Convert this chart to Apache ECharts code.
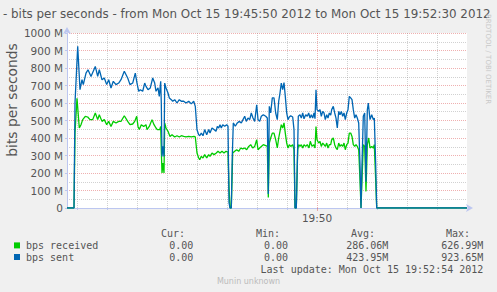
<!DOCTYPE html>
<html><head><meta charset="utf-8">
<script src="https://cdn.jsdelivr.net/npm/echarts@6/dist/echarts.min.js"></script>
<style>html,body{margin:0;padding:0;background:#F0F0F0}#c{width:497px;height:292px}</style>
</head><body><div id="c"></div>
<script>
// ---- data (t = seconds after 19:45:50, value in Mbit/s) ----
const titleText = '- bits per seconds - from Mon Oct 15 19:45:50 2012 to Mon Oct 15 19:52:30 2012';
const yAxisName = 'bits per seconds';
const startClockSec = 19 * 3600 + 45 * 60 + 50;
const spanSec = 400;
const yTickLabels = ['0', '100 M', '200 M', '300 M', '400 M', '500 M', '600 M', '700 M', '800 M', '900 M', '1000 M'];
const seriesNames = ['bps received', 'bps sent'];
const curValues = ['0.00', '0.00'];
const minValues = ['0.00', '0.00'];
const avgValues = ['286.06M', '423.95M'];
const maxValues = ['626.99M', '923.65M'];
const lastUpdate = 'Mon Oct 15 19:52:54 2012';
const footer = 'Munin unknown';
const watermark = 'RRDTOOL / TOBI OETIKER';

const received = [[0,0],[7,0],[8,430],[10,627],[12.3,457],[14,476],[15.7,505],[18.3,524],[20.7,520],[23,505],[25.7,505],[28.3,543],[30.7,505],[32.3,533],[35,495],[37.3,505],[39.7,476],[41.7,495],[44,466],[46.3,495],[49,486],[51.7,495],[54,495],[57.3,527],[60.7,495],[63,476],[65.7,480],[67.7,495],[69.7,524],[71,466],[72.3,448],[74.3,476],[76.7,466],[79,476],[80,448],[82.3,466],[85,505],[87,476],[89,457],[90.3,448],[92.7,448],[93.7,466],[94.3,333],[95,200],[96,257],[97,200],[97.7,486],[99,457],[101,438],[103,409],[105,419],[107.7,406],[110,413],[112.3,406],[114.3,413],[116.7,409],[119,406],[121.7,409],[124.3,406],[127,409],[128.3,406],[130,314],[131.7,286],[132.7,276],[134.3,295],[136,286],[137.7,305],[139.7,286],[141.7,305],[143,295],[145,314],[147,305],[149.3,314],[151,324],[153,314],[155,324],[157,314],[159,324],[161,320],[162,120],[163,0],[164.3,0],[165.7,314],[167.7,324],[169.7,333],[171.7,324],[173.7,343],[175.7,338],[177.7,343],[179.7,333],[181.7,352],[183.7,362],[185.7,343],[187.7,352],[189.7,390],[191,333],[192.7,343],[194.3,352],[196.3,362],[198.7,357],[200.3,352],[201.3,60],[202.3,371],[203.7,400],[205.3,428],[207,428],[208.7,390],[210.3,343],[211.7,400],[213,438],[214.3,476],[215.7,457],[217,486],[218.3,428],[219.7,371],[221,343],[222.3,362],[223.7,352],[225.7,362],[227,333],[228,0],[229.3,0],[230.7,333],[231.7,362],[233,352],[234.3,362],[235.7,343],[237,362],[238.7,352],[240.3,362],[242,343],[243.3,381],[245,352],[246.7,362],[248,343],[249,466],[250,390],[251.7,371],[253,381],[254.3,352],[255.7,371],[257,362],[258.3,352],[259.7,371],[261,343],[262.3,362],[263.7,362],[264.7,390],[266.3,400],[267.7,362],[269,343],[270.3,333],[271.7,371],[273,352],[274.3,362],[275.7,352],[277,371],[278.3,333],[279.7,362],[281,371],[282.3,428],[283.7,428],[285,409],[286.3,362],[287.7,352],[289,362],[290.3,352],[291.7,333],[293,160],[294,0],[295,160],[296.3,362],[297.7,352],[299,95],[300.3,362],[301.7,400],[303,343],[304.7,352],[306.3,343],[307.3,362],[308.7,160],[309.7,0],[400,0]];

const sent = [[0,0],[7,0],[8,600],[10.7,923.65],[13,676],[15,733],[16.3,705],[19,771],[21,790],[24,752],[28.3,809],[30.7,752],[32.3,790],[35,733],[37.3,743],[39.7,705],[41.7,733],[44,686],[46.3,724],[49,705],[51.7,714],[54,733],[57.3,781],[60.7,743],[63,705],[65.7,714],[68.3,771],[70,714],[71.7,667],[73.3,676],[75.7,667],[77.7,714],[79,695],[81,676],[83.3,686],[85.7,743],[87.7,714],[89,667],[91,686],[92.3,638],[93.7,724],[94.3,600],[95,295],[96,352],[97,295],[97.7,714],[99,686],[101,657],[102.3,629],[104.3,619],[105.7,610],[107.7,619],[110,600],[112.3,619],[114.3,610],[116.7,610],[119,600],[121.7,610],[124.3,595],[126.7,610],[128.3,581],[130,447],[131.7,419],[132.7,413],[134.3,428],[136,413],[137.7,448],[139.7,419],[141.7,448],[143,428],[145,457],[147,448],[149,438],[150.3,466],[151.7,457],[153,476],[154.3,457],[155.7,476],[157.7,467],[159.7,476],[161,467],[162,30],[163,0],[164.3,0],[165.3,300],[166.3,486],[168.3,467],[170.3,486],[172.3,495],[174.3,486],[176,505],[177.7,524],[179.3,495],[181,514],[182.7,505],[184.3,543],[186,514],[187.7,495],[189.7,590],[191,505],[192.7,495],[194.3,524],[196.3,533],[198.7,524],[200.3,514],[201.3,80],[202.3,581],[203.7,543],[205.3,629],[207,629],[208.7,543],[210.3,505],[211.7,610],[213,657],[214.3,714],[215.7,676],[217,717],[218.3,638],[219.7,543],[221,505],[222.3,520],[223.7,527],[225.7,520],[227,448],[228,0],[229.3,0],[230.3,250],[231.3,524],[233,533],[234.3,514],[235.7,543],[237,510],[238.7,533],[240.3,524],[241.7,543],[243,514],[244.3,533],[245.7,514],[247,543],[248,510],[249,676],[250,562],[251.7,552],[253,562],[254.3,524],[255.7,552],[257,543],[258.3,505],[259.7,533],[261,514],[262.3,543],[263.7,530],[264.7,562],[266.3,581],[267.7,543],[269,514],[270.3,457],[271.7,552],[273,533],[274.3,552],[275.7,524],[277,543],[278.3,505],[279.7,543],[281,562],[282.3,638],[283.7,629],[285,619],[286.3,562],[287.7,514],[289,533],[290.3,514],[291.7,486],[293,250],[294,0],[295,250],[296.3,524],[297.7,543],[299,150],[300.3,560],[301.3,600],[303,505],[304.7,533],[306.3,505],[307.3,514],[308.7,250],[309.7,0],[400,0]];

// ---- styling ----
const GREEN = '#00CC00', BLUE = '#0066B3';
const AXIS = '#BCC6F0';
const MAJOR = 'rgba(220,80,80,0.45)';
const MINOR = 'rgba(140,140,140,0.4)';
const TXT = '#555555';
const SANS = '"DejaVu Sans"';
const MONO = '"DejaVu Sans Mono"';

const gridSecs = [];
for (let t = 10; t < spanSec; t += 30) gridSecs.push([t, 0]);
const isMajor = t => (startClockSec + t) % 300 === 0;
const clockLabel = t => {
  const s = startClockSec + t;
  const h = Math.floor(s / 3600), m = Math.floor((s % 3600) / 60);
  return String(h).padStart(2, '0') + ':' + String(m).padStart(2, '0');
};

const chart = echarts.init(document.getElementById('c'), null, {renderer: 'svg'});

function txt(text, x, y, font, fill, align, extra) {
  return Object.assign({
    type: 'text', x: x, y: y, silent: true,
    style: {text: text, font: font, fill: fill, textAlign: align, align: align,
            textVerticalAlign: 'middle', verticalAlign: 'middle'}
  }, extra || {});
}

const legendFont = '10px ' + MONO;
const colsRight = [193.3, 288, 388.3, 483.3];
const headRight = [185, 280, 375, 470];
const rowsY = [245.7, 257.3];
const elements = [
  txt(titleText, 3, 14, '11.9px ' + SANS, TXT, 'left'),
  txt(watermark, 488, 14, '7px ' + SANS, '#C8C8C8', 'left', {rotation: -Math.PI / 2}),
  txt(yAxisName, 12, 100, '13.8px ' + SANS, TXT, 'center', {rotation: Math.PI / 2}),
  txt('Cur:', headRight[0], 233.3, legendFont, TXT, 'right'),
  txt('Min:', headRight[1], 233.3, legendFont, TXT, 'right'),
  txt('Avg:', headRight[2], 233.3, legendFont, TXT, 'right'),
  txt('Max:', headRight[3], 233.3, legendFont, TXT, 'right'),
  txt('Last update: ' + lastUpdate, 483.3, 269, legendFont, TXT, 'right'),
  txt(footer, 248.5, 281, '8px ' + SANS, '#BBBBBB', 'center')
];
[GREEN, BLUE].forEach((col, i) => {
  const y = rowsY[i];
  elements.push({type: 'rect', silent: true, shape: {x: 14, y: y - 3.3, width: 6, height: 6}, style: {fill: col}});
  elements.push(txt(seriesNames[i], 26, y, legendFont, TXT, 'left'));
  elements.push(txt(curValues[i], colsRight[0], y, legendFont, TXT, 'right'));
  elements.push(txt(minValues[i], colsRight[1], y, legendFont, TXT, 'right'));
  elements.push(txt(avgValues[i], colsRight[2], y, legendFont, TXT, 'right'));
  elements.push(txt(maxValues[i], colsRight[3], y, legendFont, TXT, 'right'));
});

chart.setOption({
  animation: false,
  backgroundColor: '#F0F0F0',
  grid: {left: 67, top: 33, width: 400, height: 175, show: true, backgroundColor: '#FFFFFF',
         borderWidth: 0, containLabel: false, outerBoundsMode: 'none'},
  xAxis: {
    type: 'value', min: 0, max: spanSec, interval: 10,
    axisLine: {show: true, lineStyle: {color: AXIS, width: 1}, symbol: ['none', 'arrow'],
               symbolSize: [6, 7], symbolOffset: [0, 6]},
    axisTick: {show: false},
    splitLine: {show: false},
    axisLabel: {
      show: true, margin: 4, color: TXT, fontFamily: 'DejaVu Sans', fontSize: 10.5,
      showMinLabel: true, showMaxLabel: true, hideOverlap: false,
      formatter: v => isMajor(v) ? clockLabel(v) : ''
    }
  },
  yAxis: {
    type: 'value', min: 0, max: 1000, interval: 100,
    axisLine: {show: true, lineStyle: {color: AXIS, width: 1}, symbol: ['none', 'arrow'],
               symbolSize: [6, 7], symbolOffset: [0, 6]},
    axisTick: {show: true, length: 2, lineStyle: {color: AXIS}},
    axisLabel: {margin: 4, color: TXT, fontFamily: 'DejaVu Sans', fontSize: 10.5,
                formatter: v => yTickLabels[Math.round(v / 100)]},
    splitLine: {show: true, lineStyle: {color: MAJOR, type: [1, 1], width: 1}},
    minorTick: {show: false, splitNumber: 2},
    minorSplitLine: {show: true, lineStyle: {color: MINOR, type: [1, 1], width: 1}}
  },
  graphic: {elements: elements},
  series: [
    {
      type: 'custom', silent: true, z: 1, data: gridSecs,
      renderItem: (params, api) => {
        const t = api.value(0);
        const top = api.coord([t, 1000]);
        const bot = api.coord([t, 0]);
        const x = Math.round(top[0]) + 0.5;
        const major = isMajor(t);
        return {type: 'group', children: [
          {type: 'line', shape: {x1: x, y1: top[1], x2: x, y2: bot[1]},
           style: {stroke: major ? MAJOR : MINOR, lineWidth: 1, lineDash: [1, 1]}},
          {type: 'line', shape: {x1: x, y1: bot[1], x2: x, y2: bot[1] + (major ? 3 : 2)},
           style: {stroke: major ? MAJOR : AXIS, lineWidth: 1}}
        ]};
      }
    },
    {name: seriesNames[0], type: 'line', data: received, showSymbol: false, z: 3,
     lineStyle: {color: GREEN, width: 1.3}, itemStyle: {color: GREEN}},
    {name: seriesNames[1], type: 'line', data: sent, showSymbol: false, z: 4,
     lineStyle: {color: BLUE, width: 1.3}, itemStyle: {color: BLUE}}
  ]
});
</script></body></html>
